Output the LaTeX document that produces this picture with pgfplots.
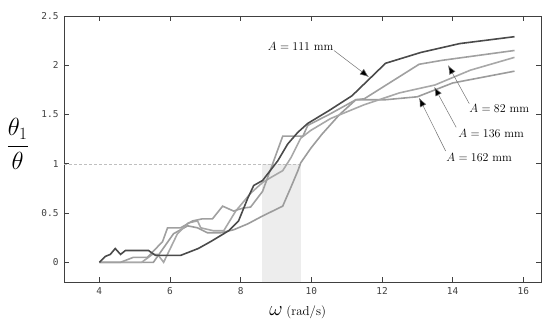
\documentclass[border=0pt]{standalone}
\usepackage{pgfplots}
\pgfplotsset{compat=1.18}
\usepackage{fontspec}
\newfontfamily\monofont{DejaVu Sans Mono}
\usetikzlibrary{arrows.meta}
\definecolor{axgray}{HTML}{404040}
\definecolor{tkgray}{HTML}{404040}
\definecolor{cdark}{HTML}{4A4A4A}
\definecolor{cA}{HTML}{A0A0A0}
\definecolor{cB}{HTML}{A8A8A8}
\definecolor{cC}{HTML}{9C9C9C}
\definecolor{shade}{HTML}{EDEDED}
\begin{document}
\begin{tikzpicture}
\begin{axis}[
  scale only axis, width=477bp, height=266bp,
  xmin=3, xmax=16.5, ymin=-0.2, ymax=2.5,
  xtick={4,6,...,16}, ytick={0,0.5,...,2.5},
  xtick pos=both, ytick pos=both,
  xticklabel pos=lower, yticklabel pos=left,
  tick align=inside, major tick length=5bp,
  tick style={color=axgray, line width=0.9pt},
  axis line style={color=axgray, line width=1pt},
  /pgf/number format/assume math mode=true,
  /pgf/number format/fixed,
  ticklabel style={font=\monofont\fontsize{9.5}{11}\selectfont, text=tkgray},
  xticklabel style={yshift=-2bp},
  yticklabel style={xshift=-2bp},
  clip=false,
]
\addplot[draw=none, fill=shade] coordinates {(8.6,-0.2) (9.7,-0.2) (9.7,1) (8.6,1)} -- cycle;
\addplot[densely dashed, color=black!25, line width=0.5pt] coordinates {(3,1) (9.7,1)};
% A = 162 mm
\addplot[color=cC, line width=1.6pt] coordinates {(4,0)(5.53,0)(6.1,0.29)(6.5,0.37)(6.78,0.35)(7.06,0.30)(7.43,0.30)(7.8,0.33)(8.2,0.39)(8.62,0.47)(9.19,0.57)(9.42,0.76)(9.62,0.93)(9.7,1.01)(9.99,1.16)(10.3,1.3)(10.8,1.5)(11.26,1.65)(12.1,1.65)(13.0,1.68)(14.0,1.82)(15.75,1.94)};
% A = 136 mm
\addplot[color=cB, line width=1.6pt] coordinates {(4,0)(5.2,0)(5.5,0.08)(5.65,0.08)(5.82,0)(6.21,0.29)(6.52,0.40)(6.78,0.42)(6.87,0.35)(7.23,0.32)(7.52,0.32)(7.86,0.52)(8.28,0.70)(8.62,0.81)(8.85,0.86)(9.19,0.93)(9.42,1.06)(9.7,1.26)(9.99,1.34)(10.55,1.46)(11.5,1.6)(12.5,1.72)(13.5,1.8)(14.5,1.95)(15.75,2.08)};
% A = 82 mm
\addplot[color=cA, line width=1.6pt] coordinates {(4,0)(4.6,0)(4.96,0.05)(5.36,0.05)(5.79,0.21)(5.93,0.35)(6.3,0.35)(6.64,0.42)(6.9,0.44)(7.2,0.44)(7.49,0.57)(7.8,0.52)(8.06,0.55)(8.28,0.56)(8.62,0.72)(9.19,1.28)(9.76,1.28)(9.9,1.39)(10.5,1.5)(11.26,1.65)(11.5,1.66)(13.05,2.01)(13.7,2.05)(15.75,2.15)};
% A = 111 mm
\addplot[color=cdark, line width=1.6pt] coordinates {(4.0,0)(4.17,0.06)(4.31,0.08)(4.45,0.14)(4.6,0.08)(4.74,0.12)(5.39,0.12)(5.59,0.07)(6.3,0.07)(6.8,0.14)(7.15,0.21)(7.66,0.32)(7.94,0.42)(8.2,0.65)(8.37,0.78)(8.62,0.83)(9.05,1.03)(9.33,1.2)(9.62,1.32)(9.9,1.41)(10.5,1.54)(11.15,1.69)(12.1,2.02)(13.1,2.13)(14.2,2.22)(15.75,2.29)};
% annotations
\begin{scope}[every node/.style={font=\fontsize{12}{14}\selectfont, inner sep=1pt}]
\node at (axis cs:9.70,2.19) {$A = 111$ mm};
\node at (axis cs:15.32,1.56) {$A = 82$ mm};
\node at (axis cs:15.09,1.31) {$A = 136$ mm};
\node at (axis cs:14.75,1.06) {$A = 162$ mm};
\end{scope}
\begin{scope}[draw=black!55, line width=0.5pt, -{Latex[length=9bp,width=7bp,fill=black]}]
\draw (axis cs:10.64,2.15) -- (axis cs:11.63,1.88);
\draw (axis cs:14.47,1.61) -- (axis cs:13.87,2.0);
\draw (axis cs:14.1,1.37) -- (axis cs:13.48,1.78);
\draw (axis cs:13.8,1.13) -- (axis cs:13.05,1.67);
\end{scope}
\node at (rel axis cs:-0.097,0.52) {\fontsize{25}{29}\selectfont$\displaystyle\frac{\theta_1}{\theta}$};
\node at (rel axis cs:0.49,-0.113) {\fontsize{22}{24}\selectfont$\omega$\,\fontsize{13}{15}\selectfont (rad/s)};
\end{axis}
\path (current axis.south west) ++(-64bp,-47bp);
\path (current axis.north east) ++(9bp,16bp);
\end{tikzpicture}
\end{document}
